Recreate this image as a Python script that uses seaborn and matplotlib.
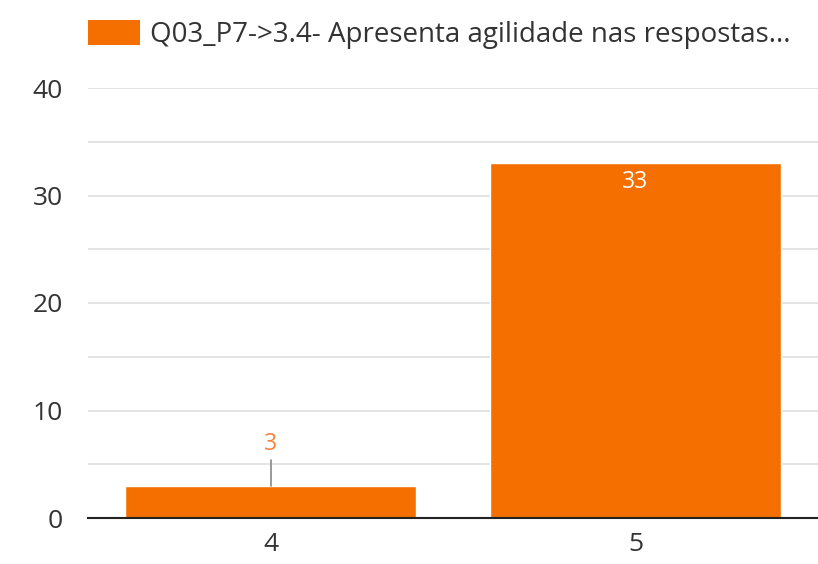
import matplotlib
matplotlib.use("Agg")
import matplotlib.pyplot as plt
import seaborn as sns
import pandas as pd
from matplotlib.patches import Patch

categories = ["4", "5"]
values = [3, 33]
series_name = "Q03_P7->3.4- Apresenta agilidade nas respostas..."
y_ticks = [0, 10, 20, 30, 40]

sns.set_theme(style="white")
plt.rcParams['font.family'] = ['Open Sans', 'DejaVu Sans']

orange = "#f46f00"
df = pd.DataFrame({"cat": categories, "val": values})

fig = plt.figure(figsize=(8.18, 5.64), dpi=100)
ax = fig.add_axes([88/818, 46/564, 730/818, 430/564])
sns.barplot(data=df, x="cat", y="val", color=orange, saturation=1, width=0.795, ax=ax)

ax.set_xlim(-0.5, 1.5)
ax.set_ylim(0, 40)
ax.set_yticks(y_ticks)
for g in range(5, 45, 5):
    ax.axhline(g, color="#e0e0e0", lw=1.3, zorder=0)
for s in ["top", "right", "left"]:
    ax.spines[s].set_visible(False)
ax.spines["bottom"].set_color("#222222")
ax.spines["bottom"].set_linewidth(1.5)
ax.set_xlabel("")
ax.set_ylabel("")
ax.tick_params(axis="y", length=0, labelsize=19, labelcolor="#333333", pad=18)
ax.tick_params(axis="x", length=0, labelsize=19, labelcolor="#333333", pad=10)

# labels
for i, v in enumerate(values):
    if v < 10:
        ax.plot([i, i], [v, v + 2.4], color="#888888", lw=1.2, zorder=3)
        ax.text(i, v + 3.85, str(v), ha="center", va="center", color="#f7813a", fontsize=16.5)
    else:
        ax.text(i, v - 1.75, str(v), ha="center", va="center", color="white", fontsize=16.5)

handles = [Patch(facecolor=orange, edgecolor="none")]
fig.legend(handles, [series_name], loc="upper left", bbox_to_anchor=(88/818, 1 - 20/564),
           frameon=False, fontsize=20, handlelength=1.87, handleheight=1.0,
           handletextpad=0.36, labelcolor="#333333", borderpad=0, borderaxespad=0)

fig.savefig("out.png", dpi=100)
